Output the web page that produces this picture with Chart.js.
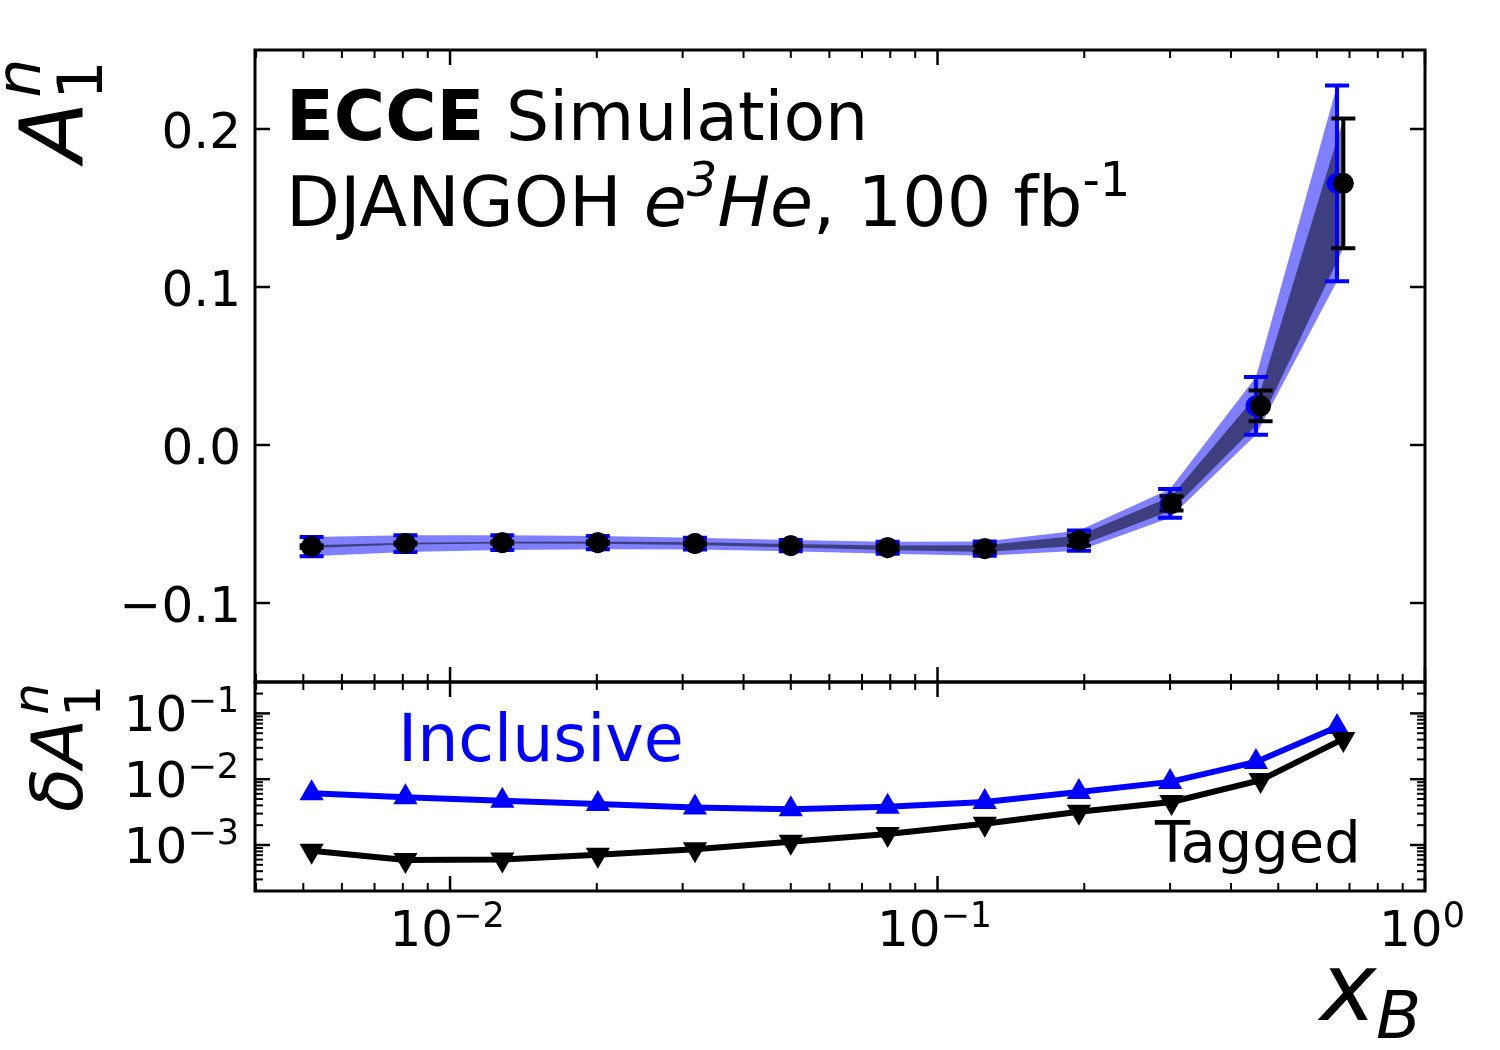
<!DOCTYPE html>
<html>
<head>
<meta charset="utf-8">
<script src="https://cdn.jsdelivr.net/npm/chart.js@4/dist/chart.umd.min.js"></script>
<style>
  body { margin: 0; background: #fff; }
  #wrap { position: relative; width: 1500px; height: 1050px; }
  #wrap canvas { position: absolute; left: 0; top: 0; }
</style>
</head>
<body>
<div id="wrap">
  <canvas id="top-chart" width="1500" height="1050"></canvas>
  <canvas id="bot-chart" width="1500" height="1050"></canvas>
</div>
<script>
// ---- data ----
const xB      = [0.0052, 0.0081, 0.0128, 0.0201, 0.0318, 0.050, 0.079, 0.125, 0.195, 0.302, 0.46, 0.68];
const xIncl   = [0.0052, 0.0081, 0.0128, 0.0201, 0.0318, 0.050, 0.079, 0.125, 0.195, 0.300, 0.45, 0.66];
const a1n     = [-0.0643, -0.0624, -0.0618, -0.0618, -0.0624, -0.0637, -0.0650, -0.0656, -0.0605, -0.0370, 0.0248, 0.1656];
const errIncl = [0.0061, 0.0053, 0.0047, 0.0042, 0.0037, 0.0035, 0.0038, 0.0045, 0.0064, 0.0091, 0.0183, 0.062];
const errTag  = [0.00082, 0.00059, 0.00060, 0.00071, 0.00086, 0.00112, 0.00147, 0.0021, 0.0032, 0.0045, 0.0097, 0.041];

const xTicks      = [0.01, 0.1, 1];
const xTickExp    = ['−2', '−1', '0'];
const yTopTicks   = [-0.1, 0, 0.1, 0.2];
const yTopLabels  = ['−0.1', '0.0', '0.1', '0.2'];
const yBotTicks   = [0.1, 0.01, 0.001];
const yBotExp     = ['−1', '−2', '−3'];

const X_MIN = 0.00398, X_MAX = 1;
const FONT = '"DejaVu Sans", sans-serif';

// minor ticks for a log axis (2..9 in every decade)
function logMinors(lo, hi) {
  const out = [];
  for (let d = -5; d <= 1; d++) {
    for (let m = 2; m <= 9; m++) {
      const v = m * Math.pow(10, d);
      if (v > lo && v < hi) out.push(v);
    }
  }
  return out;
}

// draw text made of parts: {t, size, style, weight, dy}
function richWidth(ctx, parts) {
  let w = 0;
  parts.forEach(p => {
    ctx.font = `${p.style || 'normal'} ${p.weight || 'normal'} ${p.size}px ${FONT}`;
    w += ctx.measureText(p.t).width;
  });
  return w;
}
function drawRich(ctx, x, y, parts, align) {
  const w = richWidth(ctx, parts);
  let cx = align === 'right' ? x - w : align === 'center' ? x - w / 2 : x;
  ctx.textBaseline = 'alphabetic';
  ctx.textAlign = 'left';
  parts.forEach(p => {
    ctx.font = `${p.style || 'normal'} ${p.weight || 'normal'} ${p.size}px ${FONT}`;
    ctx.fillStyle = p.color || '#000';
    ctx.fillText(p.t, cx, y + (p.dy || 0));
    cx += ctx.measureText(p.t).width;
  });
}

// frame + inward ticks on all four sides
function drawFrame(chart, yMajor, yMinor) {
  const { ctx, chartArea: a, scales } = chart;
  const xs = scales.x, ys = scales.y;
  ctx.save();
  ctx.strokeStyle = '#000';
  ctx.lineCap = 'butt';
  const tick = (x1, y1, x2, y2, lw) => {
    ctx.lineWidth = lw;
    ctx.beginPath(); ctx.moveTo(x1, y1); ctx.lineTo(x2, y2); ctx.stroke();
  };
  xTicks.forEach(v => {
    const px = xs.getPixelForValue(v);
    tick(px, a.bottom, px, a.bottom - 15, 2.5);
    tick(px, a.top, px, a.top + 15, 2.5);
  });
  logMinors(X_MIN, X_MAX).forEach(v => {
    const px = xs.getPixelForValue(v);
    tick(px, a.bottom, px, a.bottom - 8, 2);
    tick(px, a.top, px, a.top + 8, 2);
  });
  yMajor.forEach(v => {
    const py = ys.getPixelForValue(v);
    tick(a.left, py, a.left + 15, py, 2.5);
    tick(a.right, py, a.right - 15, py, 2.5);
  });
  yMinor.forEach(v => {
    const py = ys.getPixelForValue(v);
    tick(a.left, py, a.left + 8, py, 2);
    tick(a.right, py, a.right - 8, py, 2);
  });
  ctx.lineWidth = 3;
  ctx.strokeRect(a.left, a.top, a.right - a.left, a.bottom - a.top);
  ctx.restore();
}

function errBar(ctx, px, pTop, pBot, color, lw, cap) {
  ctx.strokeStyle = color;
  ctx.lineWidth = lw;
  ctx.beginPath();
  ctx.moveTo(px, pTop); ctx.lineTo(px, pBot);
  ctx.moveTo(px - cap, pTop); ctx.lineTo(px + cap, pTop);
  ctx.moveTo(px - cap, pBot); ctx.lineTo(px + cap, pBot);
  ctx.stroke();
}

// ---------- top panel ----------
const topPlugin = {
  id: 'topDecor',
  beforeDatasetDraw(chart, args) {
    if (args.index !== 4) return; // error bars go under the dots
    const { ctx, scales: { x, y } } = chart;
    ctx.save();
    xIncl.forEach((v, i) => {
      errBar(ctx, x.getPixelForValue(v), y.getPixelForValue(a1n[i] + errIncl[i]),
             y.getPixelForValue(a1n[i] - errIncl[i]), '#0000ff', 4, 12);
    });
    xB.forEach((v, i) => {
      errBar(ctx, x.getPixelForValue(v), y.getPixelForValue(a1n[i] + errTag[i]),
             y.getPixelForValue(a1n[i] - errTag[i]), '#000', 4, 12);
    });
    ctx.restore();
  },
  afterDraw(chart) {
    const { ctx, scales: { y } } = chart;
    drawFrame(chart, yTopTicks, []);
    ctx.save();
    yTopTicks.forEach((v, i) => {
      drawRich(ctx, 241, y.getPixelForValue(v) + 19, [{ t: yTopLabels[i], size: 50 }], 'right');
    });
    // annotation
    drawRich(ctx, 286, 140, [
      { t: 'ECCE', size: 70, weight: 'bold' },
      { t: ' Simulation', size: 68 }
    ], 'left');
    drawRich(ctx, 286, 226, [
      { t: 'DJANGOH ', size: 70 },
      { t: 'e', size: 70, style: 'italic' },
      { t: '3', size: 48, style: 'italic', dy: -30 },
      { t: 'He', size: 70, style: 'italic' },
      { t: ', 100 fb', size: 70 },
      { t: '-1', size: 48, dy: -30 }
    ], 'left');
    // y title A_1^n (rotated)
    ctx.translate(82, 162);
    ctx.rotate(-Math.PI / 2);
    drawRich(ctx, 0, 0, [{ t: 'A', size: 88, style: 'italic' }], 'left');
    ctx.font = `italic normal 88px ${FONT}`;
    const wA = ctx.measureText('A').width;
    drawRich(ctx, wA + 2, 20, [{ t: '1', size: 62 }], 'left');
    drawRich(ctx, wA + 4, -42, [{ t: 'n', size: 62, style: 'italic' }], 'left');
    ctx.restore();
  }
};

const lightBlue = 'rgba(0,0,255,0.5)';
const darkShade = 'rgba(0,0,0,0.5)';
const pts = (xs, ys) => xs.map((v, i) => ({ x: v, y: ys[i] }));

new Chart(document.getElementById('top-chart'), {
  type: 'line',
  data: {
    datasets: [
      { label: 'incl up', data: pts(xIncl, a1n.map((v, i) => v + errIncl[i])), order: 6,
        fill: 1, backgroundColor: lightBlue, borderWidth: 0, pointRadius: 0, tension: 0 },
      { label: 'incl lo', data: pts(xIncl, a1n.map((v, i) => v - errIncl[i])), order: 5,
        fill: false, borderWidth: 0, pointRadius: 0, tension: 0 },
      { label: 'tag up', data: pts(xB, a1n.map((v, i) => v + errTag[i])), order: 4,
        fill: 3, backgroundColor: darkShade, borderWidth: 0, pointRadius: 0, tension: 0 },
      { label: 'tag lo', data: pts(xB, a1n.map((v, i) => v - errTag[i])), order: 3,
        fill: false, borderWidth: 0, pointRadius: 0, tension: 0 },
      { label: 'Inclusive', data: pts(xIncl, a1n), order: 2, showLine: false,
        pointRadius: 10.5, pointBackgroundColor: '#0000ff', pointBorderWidth: 0 },
      { label: 'Tagged', data: pts(xB, a1n), order: 1, showLine: false,
        pointRadius: 10.5, pointBackgroundColor: '#000', pointBorderWidth: 0 }
    ]
  },
  options: {
    responsive: false,
    animation: false,
    layout: { padding: { left: 255, right: 75, top: 50, bottom: 368 } },
    plugins: { legend: { display: false }, tooltip: { enabled: false } },
    scales: {
      x: { type: 'logarithmic', min: X_MIN, max: X_MAX, display: false },
      y: { type: 'linear', min: -0.15, max: 0.25, display: false }
    }
  },
  plugins: [topPlugin]
});

// ---------- bottom panel ----------
const botPlugin = {
  id: 'botDecor',
  afterDraw(chart) {
    const { ctx, scales: { x, y } } = chart;
    drawFrame(chart, yBotTicks, logMinors(2e-4, 0.3));
    ctx.save();
    yBotTicks.forEach((v, i) => {
      drawRich(ctx, 239, y.getPixelForValue(v) + 18, [
        { t: '10', size: 50 }, { t: yBotExp[i], size: 35, dy: -19 }
      ], 'right');
    });
    xTicks.forEach((v, i) => {
      drawRich(ctx, x.getPixelForValue(v) - 3, 946, [
        { t: '10', size: 50 }, { t: xTickExp[i], size: 35, dy: -19 }
      ], 'center');
    });
    drawRich(ctx, 398, 761, [{ t: 'Inclusive', size: 65, color: '#0000ff' }], 'left');
    drawRich(ctx, 1155, 862, [{ t: 'Tagged', size: 57.5 }], 'left');
    // x title
    drawRich(ctx, 1320, 1020, [{ t: 'x', size: 95, style: 'italic' }], 'left');
    drawRich(ctx, 1376, 1038, [{ t: 'B', size: 66, style: 'italic' }], 'left');
    // y title deltaA_1^n
    ctx.translate(82, 812);
    ctx.rotate(-Math.PI / 2);
    drawRich(ctx, 0, 0, [{ t: 'δA', size: 72, style: 'italic' }], 'left');
    ctx.font = `italic normal 72px ${FONT}`;
    const w = ctx.measureText('δA').width;
    drawRich(ctx, w + 2, 18, [{ t: '1', size: 50 }], 'left');
    drawRich(ctx, w + 4, -34, [{ t: 'n', size: 50, style: 'italic' }], 'left');
    ctx.restore();
  }
};

new Chart(document.getElementById('bot-chart'), {
  type: 'line',
  data: {
    datasets: [
      { label: 'Tagged', data: pts(xB, errTag), order: 1, borderColor: '#000', borderWidth: 6,
        pointStyle: 'triangle', rotation: 180, pointRadius: 14, pointBackgroundColor: '#000',
        pointBorderWidth: 0, tension: 0 },
      { label: 'Inclusive', data: pts(xIncl, errIncl), order: 2, borderColor: '#0000ff', borderWidth: 6,
        pointStyle: 'triangle', pointRadius: 14, pointBackgroundColor: '#0000ff',
        pointBorderWidth: 0, tension: 0 }
    ]
  },
  options: {
    responsive: false,
    animation: false,
    layout: { padding: { left: 255, right: 75, top: 682, bottom: 159 } },
    plugins: { legend: { display: false }, tooltip: { enabled: false } },
    scales: {
      x: { type: 'logarithmic', min: X_MIN, max: X_MAX, display: false },
      y: { type: 'logarithmic', min: 2e-4, max: 0.3, display: false }
    }
  },
  plugins: [botPlugin]
});
</script>
</body>
</html>
